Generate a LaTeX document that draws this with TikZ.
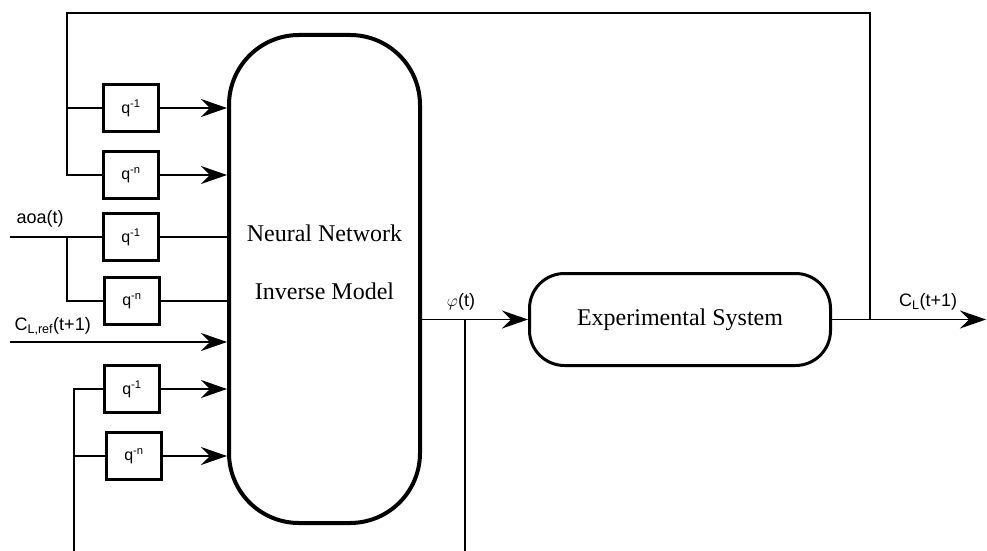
\documentclass[tikz,border=0pt]{standalone}
\usepackage{fontspec}
\setmainfont{Liberation Serif}
\setsansfont{Liberation Sans}
\usetikzlibrary{arrows.meta}
\begin{document}
\begin{tikzpicture}[x=1pt,y=-1pt,
        delay/.style={draw,line width=3pt,minimum width=55pt,minimum height=47pt,font=\sffamily\fontsize{16}{18}\selectfont},
        sig/.style={line width=1.3pt},
        arr/.style={sig,-{Stealth[length=26pt,width=18pt,inset=9pt]}},
        lbl/.style={font=\sffamily\fontsize{18}{20}\selectfont}]
                \useasboundingbox (0,0) rectangle (987,551);
                \node[draw,line width=4pt,rounded corners=70pt,minimum width=191pt,minimum height=488pt] (nn) at (324.5,279) {};
                \node[align=center,font=\fontsize{24}{58}\selectfont] (nnlbl) at (324.5,262) {Neural Network\\Inverse Model};
                \node[draw,line width=3pt,rounded corners=35pt,minimum width=301pt,minimum height=92pt,font=\fontsize{24}{28}\selectfont] (sys) at (680,319.5) {Experimental System};
                \node[delay] (d1) at (131,108) {q\textsuperscript{-1}};
                \node[delay] (d2) at (131,175) {q\textsuperscript{-n}};
                \node[delay] (d3) at (131,237) {q\textsuperscript{-1}};
                \node[delay] (d4) at (132,301) {q\textsuperscript{-n}};
                \node[delay] (d5) at (132,389) {q\textsuperscript{-1}};
                \node[delay] (d6) at (134,456) {q\textsuperscript{-n}};
                \coordinate (fb) at (870,319.5);
                \coordinate (top) at (67,13);
                \coordinate (out) at (986,319.5);
                \coordinate (aoa) at (10,237);
                \coordinate (cref) at (10,342);
                \coordinate (bot) at (74,551);
                \coordinate (phi) at (465,319.5);
                \coordinate (phibot) at (465,551);
                \draw[arr] (sys) -- (out);
                \draw[sig] (fb) |- (top) |- (d2);
                \draw[sig] (top |- d1) -- (d1);
                \draw[arr] (d1) -- (d1 -| nn.west);
                \draw[arr] (d2) -- (d2 -| nn.west);
                \draw[sig] (aoa) -- (d3);
                \draw[sig] (top |- d3) |- (d4);
                \draw[sig] (d3) -- (d3 -| nn.west);
                \draw[sig] (d4) -- (d4 -| nn.west);
                \draw[arr] (cref) -- (cref -| nn.west);
                \draw[sig] (bot) |- (d5);
                \draw[sig] (bot |- d6) -- (d6);
                \draw[arr] (d5) -- (d5 -| nn.west);
                \draw[arr] (d6) -- (d6 -| nn.west);
                \draw[arr] (nn.east |- sys) -- (sys);
                \draw[sig] (phi) -- (phibot);
                \node[lbl,anchor=west] (aoalbl) at (13,219) {aoa(t)};
                \node[lbl,anchor=west] (creflbl) at (11,326) {C\textsubscript{L,ref}(t+1)};
                \node[lbl] (philbl) at (461,302) {$\varphi$(t)};
                \node[lbl] (outlbl) at (928,302) {C\textsubscript{L}(t+1)};
\end{tikzpicture}
\end{document}
